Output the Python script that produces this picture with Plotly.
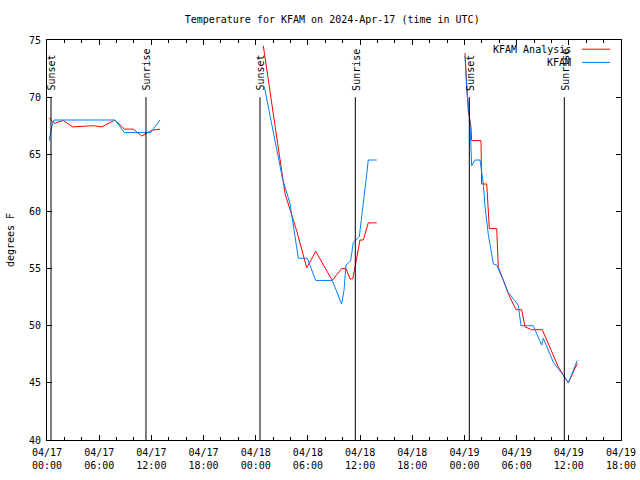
import pandas as pd
import plotly.graph_objects as go

BASE = pd.Timestamp("2024-04-17 00:00")

# KFAM Analysis (red): hours after 04/17 00:00 UTC, temperature F
analysis_hours = [0.26, 0.80, 1.87, 2.96, 5.32, 6.29, 7.82, 8.89, 9.92, 10.89, 12.04, 13.00,
                  None,
                  24.87, 25.64, 26.50, 27.37, 28.71, 29.86, 30.90, 32.80, 33.88, 34.38, 34.84,
                  35.15, 35.41, 35.79, 35.99, 36.37, 36.94, 37.91,
                  None,
                  48.06, 48.44, 48.75, 48.83, 49.90, 49.98, 50.56, 50.86, 51.71, 51.89, 52.47,
                  53.04, 53.93, 54.58, 54.96, 55.73, 56.95, 57.84, 58.79, 59.94, 60.97]
analysis_temp = [68.2, 67.7, 67.96, 67.4, 67.5, 67.4, 68.0, 67.2, 67.2, 66.6, 67.1, 67.2,
                 None,
                 74.5, 70.5, 66.0, 61.55, 58.3, 55.07, 56.5, 53.96, 55.0, 55.0, 54.1,
                 54.1, 55.1, 56.7, 57.5, 57.5, 59.0, 59.0,
                 None,
                 73.85, 68.8, 67.4, 66.2, 66.2, 62.4, 62.4, 58.5, 58.5, 55.1, 54.0,
                 52.8, 51.4, 51.4, 49.9, 49.65, 49.65, 48.1, 46.4, 45.0, 46.7]

# KFAM observations (blue)
obs_hours = [0.26, 0.54, 0.80, 7.82, 8.89, 11.92, 12.99,
             None,
             24.99, 25.87, 27.10, 27.94, 28.90, 29.93, 30.90, 32.80, 33.88, 34.15, 34.38,
             34.92, 35.22, 35.91, 36.30, 36.68, 36.94, 37.91,
             None,
             48.06, 48.26, 48.52, 48.64, 48.83, 49.21, 49.79, 50.17, 50.37, 50.74, 51.32,
             51.71, 52.47, 53.04, 54.19, 54.50, 55.92, 56.88, 57.07, 58.22, 59.37, 59.94, 60.97]
obs_temp = [66.2, 67.4, 68.0, 68.0, 66.9, 66.9, 68.0,
            None,
            70.9, 67.6, 62.8, 60.7, 55.9, 55.9, 53.96, 53.96, 51.9, 53.1, 55.3,
            55.7, 57.3, 57.8, 60.1, 62.7, 64.5, 64.5,
            None,
            73.6, 70.6, 68.8, 67.7, 64.0, 64.5, 64.5, 62.4, 60.4, 58.0, 55.4,
            55.3, 53.96, 52.9, 51.8, 50.0, 50.0, 48.3, 48.9, 46.8, 45.65, 45.0, 46.96]

# Sun events (hours after base)
sun_hours = [0.46, 11.38, 24.49, 35.45, 48.56, 59.48]
sun_labels = ["Sunset", "Sunrise", "Sunset", "Sunrise", "Sunset", "Sunrise"]

Y_MIN, Y_MAX = 40, 75
SUN_LINE_TOP = 70
X_START = "2024-04-17 00:00"
X_END = "2024-04-19 18:00"


def to_time(hours):
    return [None if h is None else BASE + pd.Timedelta(hours=h) for h in hours]


FONT = "DejaVu Sans Mono"

fig = go.Figure()
fig.add_trace(go.Scatter(x=to_time(analysis_hours), y=analysis_temp, mode="lines",
                         line=dict(color="#ff0000", width=1), name="KFAM Analysis",
                         connectgaps=False, showlegend=False))
fig.add_trace(go.Scatter(x=to_time(obs_hours), y=obs_temp, mode="lines",
                         line=dict(color="#0080ff", width=1), name="KFAM",
                         connectgaps=False, showlegend=False))

for t, lab in zip(to_time(sun_hours), sun_labels):
    fig.add_shape(type="line", x0=t, x1=t, y0=Y_MIN, y1=SUN_LINE_TOP, xref="x", yref="y",
                  line=dict(color="black", width=1))
    fig.add_annotation(x=t, y=SUN_LINE_TOP + 0.4, text=lab, textangle=-90, showarrow=False,
                       xanchor="center", yanchor="bottom", xshift=1,
                       font=dict(family=FONT, size=10, color="black"))

# custom gnuplot-style legend (text left, sample right)
legend_items = [("KFAM Analysis", "#ff0000", 0.977), ("KFAM", "#0080ff", 0.944)]
for name, col, yy in legend_items:
    fig.add_annotation(x=0.917, y=yy, xref="paper", yref="paper", text=name, showarrow=False,
                       xanchor="right", yanchor="middle",
                       font=dict(family=FONT, size=10, color="black"))
    fig.add_shape(type="line", x0=0.932, x1=0.981, y0=yy, y1=yy, xref="paper", yref="paper",
                  line=dict(color=col, width=1))

fig.update_layout(
    width=640, height=480,
    margin=dict(l=47, r=19, t=40, b=40, autoexpand=False),
    paper_bgcolor="white", plot_bgcolor="white",
    font=dict(family=FONT, size=10, color="black"),
    title=dict(text="Temperature for KFAM on 2024-Apr-17 (time in UTC)",
               x=0.519, xanchor="center", y=0.96, yanchor="middle", automargin=False,
               font=dict(family=FONT, size=10, color="black")),
    showlegend=False,
)
fig.update_xaxes(
    type="date", range=[X_START, X_END], automargin=False,
    dtick=6 * 3600 * 1000, tick0=X_START, tickformat="%m/%d<br>%H:%M",
    ticks="inside", ticklen=5, tickcolor="black", ticklabelstandoff=3,
    minor=dict(dtick=2 * 3600 * 1000, ticks="inside", ticklen=3, tickcolor="black"),
    showline=True, linecolor="black", linewidth=1, mirror="allticks",
    showgrid=False, zeroline=False,
    tickfont=dict(family=FONT, size=10, color="black"),
)
fig.update_yaxes(
    range=[Y_MIN, Y_MAX], dtick=5, tick0=40, automargin=False,
    ticks="inside", ticklen=5, tickcolor="black", ticklabelstandoff=3,
    showline=True, linecolor="black", linewidth=1, mirror="allticks",
    showgrid=False, zeroline=False,
    title=dict(text="degrees F", standoff=12, font=dict(family=FONT, size=10, color="black")),
    tickfont=dict(family=FONT, size=10, color="black"),
)

fig.write_html("out.html", config={"displayModeBar": False},
               post_script="document.body.style.margin='0px';")
